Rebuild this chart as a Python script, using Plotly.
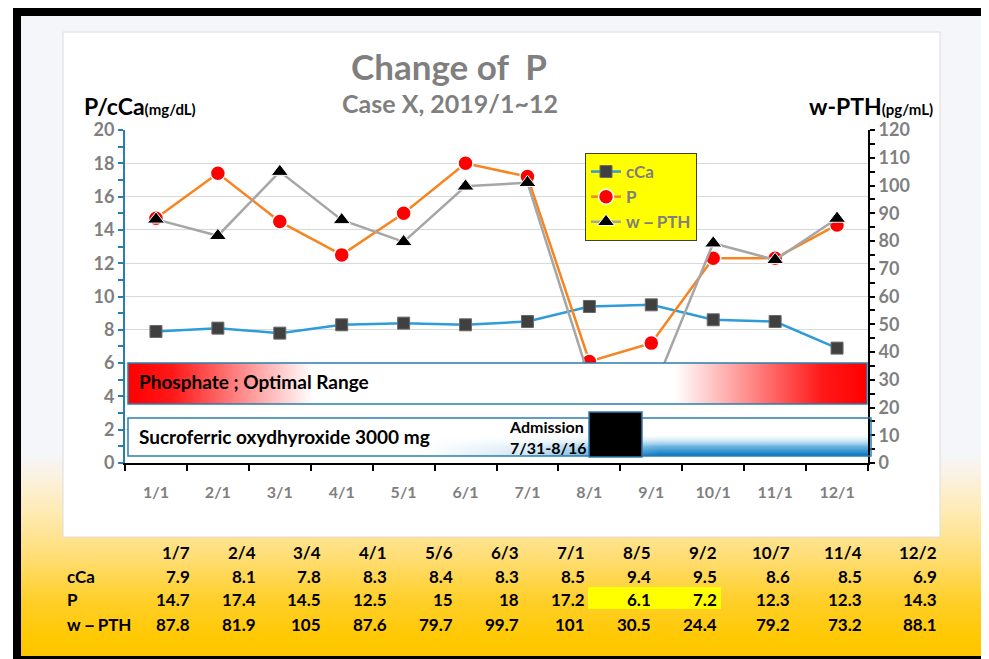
import plotly.graph_objects as go

# ---------------- data ----------------
months = ["1/1", "2/1", "3/1", "4/1", "5/1", "6/1", "7/1", "8/1", "9/1", "10/1", "11/1", "12/1"]
test_dates = ["1/7", "2/4", "3/4", "4/1", "5/6", "6/3", "7/1", "8/5", "9/2", "10/7", "11/4", "12/2"]
cca = [7.9, 8.1, 7.8, 8.3, 8.4, 8.3, 8.5, 9.4, 9.5, 8.6, 8.5, 6.9]
p_vals = [14.7, 17.4, 14.5, 12.5, 15, 18, 17.2, 6.1, 7.2, 12.3, 12.3, 14.3]
wpth = [87.8, 81.9, 105, 87.6, 79.7, 99.7, 101, 30.5, 24.4, 79.2, 73.2, 88.1]
p_labels = ["14.7", "17.4", "14.5", "12.5", "15", "18", "17.2", "6.1", "7.2", "12.3", "12.3", "14.3"]
wpth_labels = ["87.8", "81.9", "105", "87.6", "79.7", "99.7", "101", "30.5", "24.4", "79.2", "73.2", "88.1"]

# ---------------- geometry helpers (screen pixels, page has 8px body margin) ----------------
W, H = 989, 659
OFF = 8
PL, PR, PT, PB = 125, 868, 130, 463   # plot area in screen pixels
FONT = "Lato"
GRAY = "#7F7F7F"
BLUE_AX = "#2B7DB0"


def px(x):
    return (x - PL) / (PR - PL)


def py(y):
    return (PB - y) / (PB - PT)


def bx(x):  # pixel -> x data (linear index axis)
    return (x - PL) / (PR - PL) * 12 - 0.5


def by2(y):  # pixel -> y2 data
    return (PB - y) / (PB - PT) * 120


shapes = []
# frame & background
shapes.append(dict(type="rect", xref="paper", yref="paper", x0=px(13), x1=px(1000), y0=py(8), y1=py(670),
                   fillcolor="black", line=dict(width=0), layer="below"))
shapes.append(dict(type="rect", xref="paper", yref="paper", x0=px(21), x1=px(983), y0=py(16), y1=py(656),
                   fillcolor="#F5F6FA", line=dict(width=0), layer="below"))


def hex2rgb(h):
    h = h.lstrip("#")
    return tuple(int(h[i:i + 2], 16) for i in (0, 2, 4))


stops = [(455, "#F5F6FA"), (478, "#FBF1DE"), (515, "#FFEAB0"), (555, "#FFDE78"),
         (600, "#FFCF2A"), (640, "#FFC800"), (656, "#FFC400")]


def grad_color(y):
    for (y0, c0), (y1, c1) in zip(stops[:-1], stops[1:]):
        if y0 <= y <= y1:
            t = (y - y0) / (y1 - y0)
            a, b = hex2rgb(c0), hex2rgb(c1)
            return "rgb(%d,%d,%d)" % tuple(round(a[i] + (b[i] - a[i]) * t) for i in range(3))
    return stops[-1][1]


yy = 455
while yy < 656:
    shapes.append(dict(type="rect", xref="paper", yref="paper", x0=px(21), x1=px(983), y0=py(yy), y1=py(yy + 3),
                       fillcolor=grad_color(yy + 1.5), line=dict(width=0), layer="below"))
    yy += 3

# white panel
shapes.append(dict(type="rect", xref="paper", yref="paper", x0=px(63), x1=px(940), y0=py(32), y1=py(537),
                   fillcolor="white", line=dict(color="#DCDCDC", width=1), layer="below"))
# yellow highlight in table
shapes.append(dict(type="rect", xref="paper", yref="paper", x0=px(588), x1=px(721), y0=py(587), y1=py(609),
                   fillcolor="#FFFF00", line=dict(width=0), layer="below"))

# box borders (above traces)
shapes.append(dict(type="rect", xref="paper", yref="paper", x0=px(128), x1=px(867), y0=py(363), y1=py(404),
                   fillcolor="rgba(0,0,0,0)", line=dict(color=BLUE_AX, width=1.5), layer="above"))
shapes.append(dict(type="rect", xref="paper", yref="paper", x0=px(128), x1=px(871), y0=py(418), y1=py(456),
                   fillcolor="rgba(0,0,0,0)", line=dict(color=BLUE_AX, width=1.5), layer="above"))
shapes.append(dict(type="rect", xref="paper", yref="paper", x0=px(589), x1=px(642), y0=py(412), y1=py(457),
                   fillcolor="black", line=dict(color=BLUE_AX, width=1.5), layer="above"))

fig = go.Figure()
xi = list(range(len(months)))

fig.add_trace(go.Scatter(x=xi, y=cca, name="cCa", mode="lines+markers",
                         line=dict(color="#2E9CDB", width=2.5),
                         marker=dict(symbol="square", size=12, color="#404040", line=dict(color="#6a6a6a", width=1))))
fig.add_trace(go.Scatter(x=xi, y=p_vals, name="P", mode="lines+markers",
                         line=dict(color="#F7841F", width=2.5),
                         marker=dict(symbol="circle", size=15, color="#FF0000", line=dict(color="white", width=1.5))))
fig.add_trace(go.Scatter(x=xi, y=wpth, name="w－PTH", mode="lines+markers", yaxis="y2",
                         line=dict(color="#A6A6A6", width=2.5),
                         marker=dict(symbol="triangle-up", size=15, color="black", line=dict(color="white", width=1))))


def rect_xy(x0, x1, y0, y1):
    return [bx(x0), bx(x1), bx(x1), bx(x0), bx(x0)], [by2(y0), by2(y0), by2(y1), by2(y1), by2(y0)]


# Phosphate optimal range box (drawn above the lines)
rx, ry = rect_xy(128, 867, 363, 404)
fig.add_trace(go.Scatter(x=rx, y=ry, yaxis="y2", mode="lines", fill="toself", line=dict(width=0),
                         fillgradient=dict(type="horizontal",
                                           colorscale=[[0, "#FF0000"], [0.06, "#FF1818"], [0.25, "#FFFFFF"],
                                                       [0.74, "#FFFFFF"], [0.94, "#FF1818"], [1, "#FF0000"]]),
                         showlegend=False, hoverinfo="skip"))
# Sucroferric box
rx, ry = rect_xy(128, 871, 418, 456)
fig.add_trace(go.Scatter(x=rx, y=ry, yaxis="y2", mode="lines", fill="toself", line=dict(width=0),
                         fillcolor="white", showlegend=False, hoverinfo="skip"))
rx, ry = rect_xy(420, 871, 418, 456)
fig.add_trace(go.Scatter(x=rx, y=ry, yaxis="y2", mode="lines", fill="toself", line=dict(width=0),
                         fillgradient=dict(type="vertical",
                                           colorscale=[[0, "rgba(0,112,192,1)"], [0.25, "rgba(70,160,215,0.8)"],
                                                       [0.6, "rgba(255,255,255,0)"], [1, "rgba(255,255,255,0)"]]),
                         showlegend=False, hoverinfo="skip"))
rx, ry = rect_xy(420, 660, 418, 456)
fig.add_trace(go.Scatter(x=rx, y=ry, yaxis="y2", mode="lines", fill="toself", line=dict(width=0),
                         fillgradient=dict(type="horizontal",
                                           colorscale=[[0, "rgba(255,255,255,1)"], [0.45, "rgba(255,255,255,0.8)"],
                                                       [1, "rgba(255,255,255,0)"]]),
                         showlegend=False, hoverinfo="skip"))

ann = []


def add_text(x, y, text, size, color="black", xanchor="center", align="center"):
    ann.append(dict(xref="paper", yref="paper", x=px(x), y=py(y), text=text, showarrow=False,
                    xanchor=xanchor, yanchor="middle", align=align,
                    font=dict(family=FONT, size=size, color=color)))


add_text(449, 66, "<b>Change of  P</b>", 35, GRAY)
add_text(450, 103, "<b>Case X, 2019/1~12</b>", 25, GRAY)
add_text(82, 106, "<b>P/cCa<span style='font-size:15px'>(mg/dL)</span></b>", 23, "black", "left")
add_text(935, 106, "<b>w-PTH<span style='font-size:15px'>(pg/mL)</span></b>", 23, "black", "right")
add_text(137, 381, "<b>Phosphate ; Optimal Range</b>", 19, "black", "left")
add_text(137, 436, "<b>Sucroferric oxydhyroxide 3000 mg</b>", 19, "black", "left")
add_text(507, 437, "<b>Admission<br>7/31-8/16</b>", 16, "black", "left", "left")

# data table below the chart
col_right = [192, 258, 323, 389, 455, 521, 587, 653, 719, 792, 864, 939]
rows = [(552, test_dates), (576, [str(v) for v in cca]), (599, p_labels), (624, wpth_labels)]
for yrow, vals in rows:
    for xr, v in zip(col_right, vals):
        add_text(xr, yrow, "<b>%s</b>" % v, 17, "black", "right", "right")
add_text(65, 576, "<b>cCa</b>", 17, "black", "left")
add_text(65, 599, "<b>P</b>", 17, "black", "left")
add_text(65, 624, "<b>w－PTH</b>", 17, "black", "left")

fig.update_layout(
    width=W, height=H,
    margin=dict(l=PL - OFF, r=W - (PR - OFF), t=PT - OFF, b=H - (PB - OFF), pad=0),
    paper_bgcolor="white", plot_bgcolor="rgba(0,0,0,0)",
    shapes=shapes, annotations=ann,
    font=dict(family=FONT),
    xaxis=dict(range=[-0.5, 11.5], tickvals=xi, ticktext=months, ticks="", showgrid=False, zeroline=False,
               showline=True, linecolor="black", linewidth=2,
               tickfont=dict(family=FONT, size=16, color=GRAY, weight="bold"),
               ticklabelstandoff=14,
               minor=dict(tick0=-0.5, dtick=1, ticks="outside", ticklen=6, tickcolor="black", tickwidth=2,
                          showgrid=False)),
    yaxis=dict(range=[0, 20], dtick=2, ticks="outside", ticklen=5, tickcolor=BLUE_AX, tickwidth=2,
               showline=True, linecolor=BLUE_AX, linewidth=2, zeroline=False,
               showgrid=True, gridcolor="#D9D9D9", gridwidth=1,
               tickfont=dict(family=FONT, size=18, color=GRAY, weight="bold"),
               minor=dict(dtick=1, ticks="outside", ticklen=5, tickcolor=BLUE_AX, tickwidth=2, showgrid=False)),
    yaxis2=dict(range=[0, 120], dtick=10, overlaying="y", side="right", ticks="outside", ticklen=5,
                tickcolor="black", tickwidth=2, showline=True, linecolor="black", linewidth=2,
                zeroline=False, showgrid=False,
                tickfont=dict(family=FONT, size=18, color=GRAY, weight="bold"),
                minor=dict(dtick=5, ticks="outside", ticklen=5, tickcolor="black", tickwidth=2)),
    legend=dict(x=px(585), y=py(153), xanchor="left", yanchor="top", bgcolor="#FFFF00",
                bordercolor="#404040", borderwidth=1, tracegroupgap=0,
                font=dict(family=FONT, size=17, color=GRAY, weight="bold")),
    showlegend=True,
)

fig.write_html("out.html")
